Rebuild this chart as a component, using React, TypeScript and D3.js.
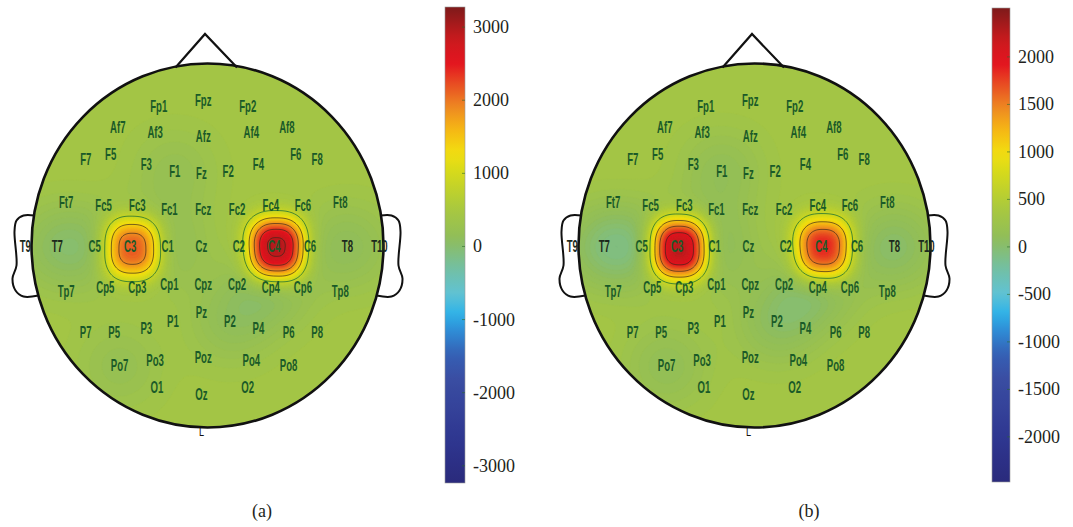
import React from "react";
import * as d3 from "d3";

const W = 1073;
const H = 527;

// electrode label positions on the scalp (head-radius units, x right, y down)
const electrodes: [string, number, number][] = [
  ["Fp1", -0.26, -0.78], ["Fpz", -0.01, -0.81], ["Fp2", 0.24, -0.78],
  ["Af7", -0.49, -0.66], ["Af3", -0.28, -0.63], ["Afz", -0.01, -0.61],
  ["Af4", 0.26, -0.63], ["Af8", 0.46, -0.66],
  ["F7", -0.67, -0.48], ["F5", -0.53, -0.51], ["F3", -0.33, -0.45],
  ["F1", -0.17, -0.41], ["Fz", -0.02, -0.4], ["F2", 0.13, -0.41],
  ["F4", 0.3, -0.45], ["F6", 0.51, -0.51], ["F8", 0.63, -0.48],
  ["Ft7", -0.78, -0.24], ["Fc5", -0.57, -0.22], ["Fc3", -0.38, -0.22],
  ["Fc1", -0.2, -0.2], ["Fcz", -0.01, -0.2], ["Fc2", 0.18, -0.2],
  ["Fc4", 0.37, -0.22], ["Fc6", 0.55, -0.22], ["Ft8", 0.76, -0.24],
  ["T9", -1.01, 0.01], ["T7", -0.83, 0.01], ["C5", -0.62, 0.01],
  ["C3", -0.42, 0.01], ["C1", -0.21, 0.01], ["Cz", -0.02, 0.01],
  ["C2", 0.19, 0.01], ["C4", 0.39, 0.01], ["C6", 0.59, 0.01],
  ["T8", 0.8, 0.01], ["T10", 0.98, 0.01],
  ["Tp7", -0.78, 0.26], ["Cp5", -0.56, 0.24], ["Cp3", -0.38, 0.24],
  ["Cp1", -0.2, 0.22], ["Cpz", -0.01, 0.22], ["Cp2", 0.18, 0.22],
  ["Cp4", 0.37, 0.24], ["Cp6", 0.55, 0.24], ["Tp8", 0.76, 0.26],
  ["Pz", -0.02, 0.38], ["P1", -0.18, 0.43], ["P2", 0.14, 0.43],
  ["P3", -0.33, 0.47], ["P4", 0.3, 0.47], ["P5", -0.51, 0.49],
  ["P6", 0.47, 0.49], ["P7", -0.67, 0.49], ["P8", 0.63, 0.49],
  ["Po7", -0.48, 0.68], ["Po3", -0.28, 0.65], ["Poz", -0.01, 0.63],
  ["Po4", 0.26, 0.65], ["Po8", 0.47, 0.68],
  ["O1", -0.27, 0.8], ["Oz", -0.02, 0.84], ["O2", 0.24, 0.8],
];
const darkLabels = ["T9", "T10", "T7", "T8"];

// jet-like colormap (0 = bottom, 1 = top)
const cmapStops = [0, 0.09, 0.218, 0.27, 0.313, 0.355, 0.397, 0.45, 0.514, 0.577, 0.651, 0.693, 0.746, 0.788, 0.841, 0.883, 0.93, 1];
const cmapColors = ["#2a2a7c", "#2e3690", "#3a4da2", "#3560b4", "#2f86d2", "#2eb2e8", "#60c2d4", "#72bfa4", "#90bd5a", "#a9c83e", "#d4da1c", "#f2df10", "#f5b414", "#ee8a22", "#e84a22", "#e3131f", "#cc1a1e", "#7e1a1a"];

const panels = ["(a)", "(b)"];
const peakChannels = ["C3", "C4"];
const peaksA = [1950, 2700];
const peaksB = [2150, 1650];
const dipChannels = ["T7", "C1", "T8", "Cp4", "P2", "F1", "Po7", "C5"];
const dipsA = [-300, -250, -300, -300, -250, -200, -200, -200];
const dipsB = [-300, -250, -300, -250, -250, -200, -200, -200];
const baseA = 420;
const baseB = 330;
const domainA = [-3235, 3275];
const domainB = [-2475, 2515];
const ticksA = [3000, 2000, 1000, 0, -1000, -2000, -3000];
const ticksB = [2000, 1500, 1000, 500, 0, -500, -1000, -1500, -2000];
const linesA = [850, 1350, 1850, 2350, 2850];
const linesB = [700, 1100, 1500, 1900, 2300];

const bspline = (t: number) => {
  const a = Math.abs(t);
  if (a < 1) return (2 / 3 - a * a + (a * a * a) / 2) * 1.5;
  if (a < 2) return ((2 - a) ** 3 / 6) * 1.5;
  return 0;
};

const cmap = d3.scaleLinear<string>().domain(cmapStops).range(cmapColors).interpolate(d3.interpolateRgb).clamp(true);
const colorFor = (domain: number[]) => (v: number) => cmap((v - domain[0]) / (domain[1] - domain[0]));

const pos = new Map(electrodes.map((e) => [e[0], [e[1], e[2]]]));

function Topo({ cx, cy, base, peaks, dips, domain, lines, id }: any) {
  const R = 178;
  const sx = d3.scaleLinear().domain([-1, 1]).range([cx - R, cx + R]);
  const sy = d3.scaleLinear().domain([-1, 1]).range([cy - R, cy + R]);
  const ex = cx + 2.5, ey = cy + 0.5, rx = 176, ry = 182;
  const cell = 2, x0 = cx - 184, y0 = cy - 190, nx = 188, ny = 194;
  const wx = 0.156, wy = 0.17, p = 2.6;
  const h = 0.185;
  const color = colorFor(domain);

  const values: number[] = new Array(nx * ny);
  let vmin = Infinity;
  for (let j = 0; j < ny; j++) {
    for (let i = 0; i < nx; i++) {
      const u = sx.invert(x0 + (i + 0.5) * cell);
      const v = sy.invert(y0 + (j + 0.5) * cell);
      let val = base;
      peaks.forEach((a: number, k: number) => {
        const q = pos.get(peakChannels[k])!;
        const dx = Math.abs((u - q[0] - 0.012) / wx);
        const dy = Math.abs((v - q[1] - 0.01) / wy);
        val += a * Math.exp(-(dx ** p + dy ** p));
      });
      dips.forEach((a: number, k: number) => {
        const q = pos.get(dipChannels[k])!;
        val += a * bspline((u - q[0]) / (h * 1.5)) * bspline((v - q[1]) / (h * 1.5));
      });
      values[j * nx + i] = val;
      if (val < vmin) vmin = val;
    }
  }
  const step = (domain[1] - domain[0]) / 140;
  const thr = d3.range(domain[0], domain[1], step).filter((t) => t > vmin - step);
  thr[0] = vmin - 1;
  const bands = d3.contours().size([nx, ny]).thresholds(thr)(values);
  const iso = d3.contours().size([nx, ny]).thresholds(lines)(values);
  const path = d3.geoPath(d3.geoIdentity().scale(cell).translate([x0, y0]) as any);

  const earPts: [number, number][] = [[-173, -30], [-184, -30], [-191, -25], [-193, -14], [-191, 20], [-195, 33], [-192, 45], [-184, 51], [-169, 50]];
  const ear = d3.line().curve(d3.curveCatmullRom.alpha(0.5));
  const nose: [number, number][] = [[-32, -178], [-2.5, -211.5], [29.5, -178]];

  return (
    <g>
      <defs>
        <clipPath id={id}>
          <ellipse cx={ex} cy={ey} rx={rx} ry={ry} />
        </clipPath>
      </defs>
      <g clipPath={`url(#${id})`}>
        {bands.filter((b) => b.coordinates.length).map((b, k) => {
          const c = color(k === 0 ? vmin : b.value + step / 2);
          return <path key={k} d={path(b as any) || ""} fill={c} stroke={c} strokeWidth={0.4} />;
        })}
        {iso.map((b, k) => (
          <path key={k} d={path(b as any) || ""} fill="none" stroke={k === 0 ? "#2f7a33" : "#3b2a1c"} strokeWidth={k === 0 ? 1 : 0.8} strokeOpacity={0.85} />
        ))}
      </g>
      <ellipse cx={ex} cy={ey} rx={rx} ry={ry} fill="none" stroke="#111" strokeWidth={2.6} />
      <path d={d3.line()(nose.map(([a, b]) => [ex + a, ey + b])) || ""} fill="none" stroke="#111" strokeWidth={2.2} strokeLinejoin="miter" />
      <path d={ear(earPts.map(([a, b]) => [ex + a, ey + b])) || ""} fill="none" stroke="#111" strokeWidth={2} />
      <path d={ear(earPts.map(([a, b]) => [ex - a, ey + b])) || ""} fill="none" stroke="#111" strokeWidth={2} />
      {electrodes.map(([name, u, v]) => (
        <text key={name} transform={`translate(${sx(u)},${sy(v)}) scale(0.6,1)`} textAnchor="middle" dominantBaseline="central"
          fontFamily="'Liberation Sans', sans-serif" fontSize={16} fontWeight="bold"
          fill={darkLabels.includes(name) ? "#1c2a1c" : "#1a5a28"}>
          {name}
        </text>
      ))}
      <text transform={`translate(${sx(-0.02)},${ey + 186}) scale(0.7,1)`} textAnchor="middle" dominantBaseline="central" fontFamily="'Liberation Sans', sans-serif" fontSize={13} fill="#111">L</text>
    </g>
  );
}

function ColorBar({ x, y0, y1, w, domain, ticks, id }: any) {
  const y = d3.scaleLinear().domain(domain).range([y1, y0]);
  const color = colorFor(domain);
  const stops = d3.range(0, 1.0001, 0.02);
  return (
    <g>
      <defs>
        <linearGradient id={id} x1="0" y1="1" x2="0" y2="0">
          {stops.map((s) => (
            <stop key={s} offset={s} stopColor={color(domain[0] + s * (domain[1] - domain[0]))} />
          ))}
        </linearGradient>
      </defs>
      <rect x={x} y={y0} width={w} height={y1 - y0} fill={`url(#${id})`} stroke="#999" strokeWidth={0.6} />
      {ticks.map((t: number) => (
        <g key={t}>
          <line x1={x + w - 3} x2={x + w} y1={y(t)} y2={y(t)} stroke="#2a6a2a" strokeOpacity={0.6} />
          <text x={x + w + 8} y={y(t)} dominantBaseline="central" fontFamily="'Liberation Serif', serif" fontSize={18} fill="#231f20">
            {t}
          </text>
        </g>
      ))}
    </g>
  );
}

export default function App() {
  return (
    <svg width={W} height={H} style={{ position: "absolute", left: 0, top: 0, background: "#fff" }}>
      <Topo cx={205} cy={245} base={baseA} peaks={peaksA} dips={dipsA} domain={domainA} lines={linesA} id="clipA" />
      <Topo cx={752} cy={245} base={baseB} peaks={peaksB} dips={dipsB} domain={domainB} lines={linesB} id="clipB" />
      <ColorBar x={445} y0={7} y1={483} w={20} domain={domainA} ticks={ticksA} id="gradA" />
      <ColorBar x={992} y0={8} y1={482} w={18} domain={domainB} ticks={ticksB} id="gradB" />
      {panels.map((p, i) => (
        <text key={p} x={262 + i * 547} y={511} textAnchor="middle" dominantBaseline="central" fontFamily="'Liberation Serif', serif" fontSize={18} fill="#231f20">
          {p}
        </text>
      ))}
    </svg>
  );
}
